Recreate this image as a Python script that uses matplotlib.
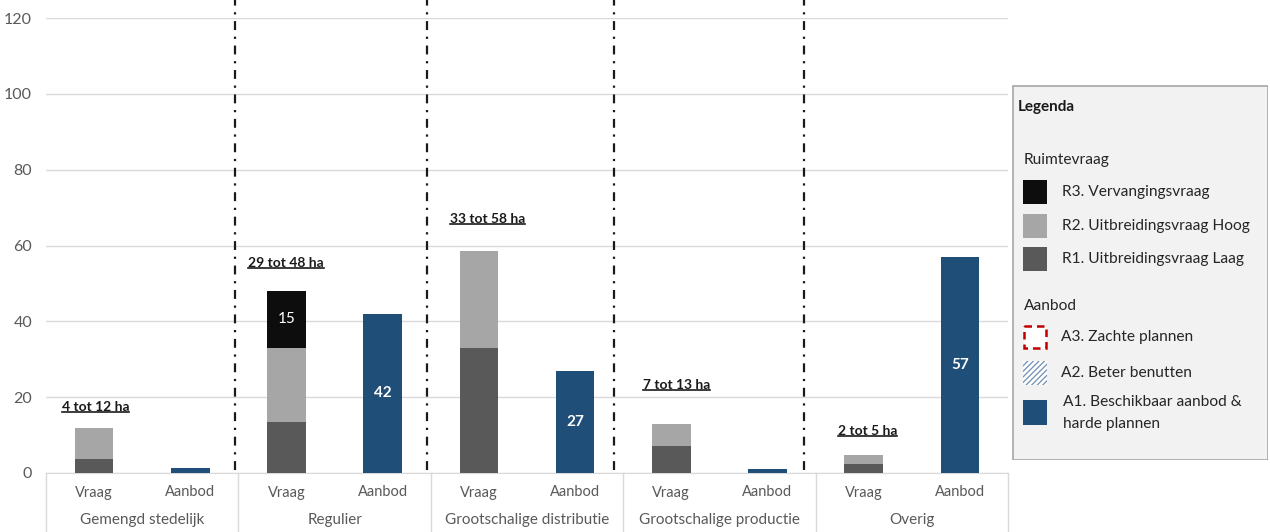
import matplotlib
matplotlib.use("Agg")
import matplotlib.pyplot as plt
from matplotlib.patches import Rectangle
from matplotlib.lines import Line2D
import numpy as np

# data
groepen = ['Gemengd stedelijk', 'Regulier', 'Grootschalige distributie',
           'Grootschalige productie', 'Overig']
subcats = ['Vraag', 'Aanbod']
r1_laag = [3.8, 13.5, 33, 7.1, 2.4]
r2_hoog = [8.2, 19.5, 25.5, 5.8, 2.4]
r3_vervanging = [0, 15, 0, 0, 0]
a1_aanbod = [1.4, 42, 27, 1.0, 57]
r3_labels = ['', '15', '', '', '']
a1_labels = ['', '42', '27', '', '57']
bereik = ['4 tot 12 ha', '29 tot 48 ha', '33 tot 58 ha', '7 tot 13 ha', '2 tot 5 ha']
bereik_x = [0.083, 1.052, 2.098, 3.104, 4.114]
bereik_y = [17.4, 55.5, 67, 23.2, 11.2]
scheiding = [0.984, 1.979, 2.953, 3.938]

c_r1 = '#595959'
c_r2 = '#a6a6a6'
c_r3 = '#0d0d0d'
c_a1 = '#1f4e79'
grijs = '#595959'

plt.rcParams['font.family'] = ['Lato', 'DejaVu Sans']
plt.rcParams['hatch.color'] = '#6f8fb3'
plt.rcParams['hatch.linewidth'] = 0.9

W, H = 1270, 532
fig = plt.figure(figsize=(W / 100, H / 100), dpi=100)
ax = fig.add_axes([46 / W, 1 - 473 / H, 962 / W, (473 - 18) / H])

n = len(groepen)
x = np.arange(n)
xv = x + 0.25
xa = x + 0.75
bw = 0.2

ax.bar(xv, r1_laag, bw, color=c_r1, zorder=3)
ax.bar(xv, r2_hoog, bw, bottom=r1_laag, color=c_r2, zorder=3)
bot3 = np.array(r1_laag) + np.array(r2_hoog)
ax.bar(xv, r3_vervanging, bw, bottom=bot3, color=c_r3, zorder=3)
ax.bar(xa, a1_aanbod, bw, color=c_a1, zorder=3)

for i in range(n):
    if r3_labels[i]:
        ax.text(xv[i], bot3[i] + r3_vervanging[i] / 2, r3_labels[i], color='white',
                ha='center', va='center', fontsize=11, zorder=4)
    if a1_labels[i]:
        ax.text(xa[i], a1_aanbod[i] / 2, a1_labels[i], color='white',
                ha='center', va='center', fontsize=11, fontweight='bold', zorder=4)

ax.set_xlim(0, n)
ax.set_ylim(0, 120)
ax.set_yticks(range(0, 121, 20))
ax.yaxis.grid(True, color='#d9d9d9', lw=1)
ax.set_axisbelow(True)
for s in ['left', 'right', 'top']:
    ax.spines[s].set_visible(False)
ax.spines['bottom'].set_color('#d9d9d9')
ax.tick_params(axis='y', length=0, labelsize=11.5, labelcolor=grijs, pad=10)

# two-level category axis
ax.set_xticks(np.concatenate([xv, xa]))
ax.set_xticklabels(subcats[:1] * n + subcats[1:] * n)
ax.tick_params(axis='x', length=0, labelsize=10.5, labelcolor=grijs, pad=9)
for i, g in enumerate(groepen):
    ax.text(i + 0.5, -12.3, g, ha='center', va='center', fontsize=11,
            color=grijs, clip_on=False)
for b in range(n + 1):
    ax.plot([b, b], [0, -16], color='#d9d9d9', lw=1, clip_on=False)

# dash-dot separators
for s in scheiding:
    ax.plot([s, s], [0.8, 124.8], color='#1a1a1a', lw=1.6, ls=(0, (4, 3, 1, 3)),
            clip_on=False, zorder=5)

# range labels, bold and underlined
teksten = []
for i in range(n):
    t = ax.text(bereik_x[i], bereik_y[i], bereik[i], ha='left', va='center',
                fontsize=10, fontweight='bold', color='#1a1a1a')
    teksten.append(t)

# legend box in figure pixel coordinates
lg = fig.add_axes([1012 / W, 1 - 460 / H, 256 / W, 375 / H])
lg.set_xlim(1012, 1268)
lg.set_ylim(460, 85)
lg.axis('off')
lg.add_patch(Rectangle((1012.5, 85.5), 255, 374, facecolor='#f2f2f2',
                       edgecolor='#a6a6a6', lw=1.2))
lg.text(1018, 107, 'Legenda', fontsize=11, fontweight='bold', va='center', color='#1a1a1a')
lg.text(1024, 160, 'Ruimtevraag', fontsize=11.2, va='center', color='#262626')
legitems = [(c_r3, 'R3. Vervangingsvraag', 192),
            (c_r2, 'R2. Uitbreidingsvraag Hoog', 226),
            (c_r1, 'R1. Uitbreidingsvraag Laag', 259)]
for kleur, lab, yy in legitems:
    lg.add_patch(Rectangle((1023, yy - 12), 24, 24, facecolor=kleur, edgecolor='none'))
    lg.text(1062, yy, lab, fontsize=11.2, va='center', color='#262626')
lg.text(1024, 306, 'Aanbod', fontsize=11.2, va='center', color='#262626')
lg.add_patch(Rectangle((1024, 326), 22, 22, facecolor='white', edgecolor='#c00000',
                       lw=1.8, ls=(0, (3, 2))))
lg.text(1061, 337, 'A3. Zachte plannen', fontsize=11.2, va='center', color='#262626')
lg.add_patch(Rectangle((1023, 361), 24, 24, facecolor='white', edgecolor='#6f8fb3',
                       lw=0, hatch='//////'))
lg.text(1061, 373, 'A2. Beter benutten', fontsize=11.2, va='center', color='#262626')
lg.add_patch(Rectangle((1023, 400), 24, 25, facecolor=c_a1, edgecolor='none'))
lg.text(1063, 402, 'A1. Beschikbaar aanbod &', fontsize=11.2, va='center', color='#262626')
lg.text(1063, 424, 'harde plannen', fontsize=11.2, va='center', color='#262626')

# underline the range labels
fig.canvas.draw()
r = fig.canvas.get_renderer()
for t in teksten:
    bb = t.get_window_extent(renderer=r)
    yline = bb.y0 + 1
    fig.add_artist(Line2D([bb.x0 / W, bb.x1 / W], [yline / H, yline / H],
                          color='#1a1a1a', lw=1.2))

fig.savefig('out.png', dpi=100)
